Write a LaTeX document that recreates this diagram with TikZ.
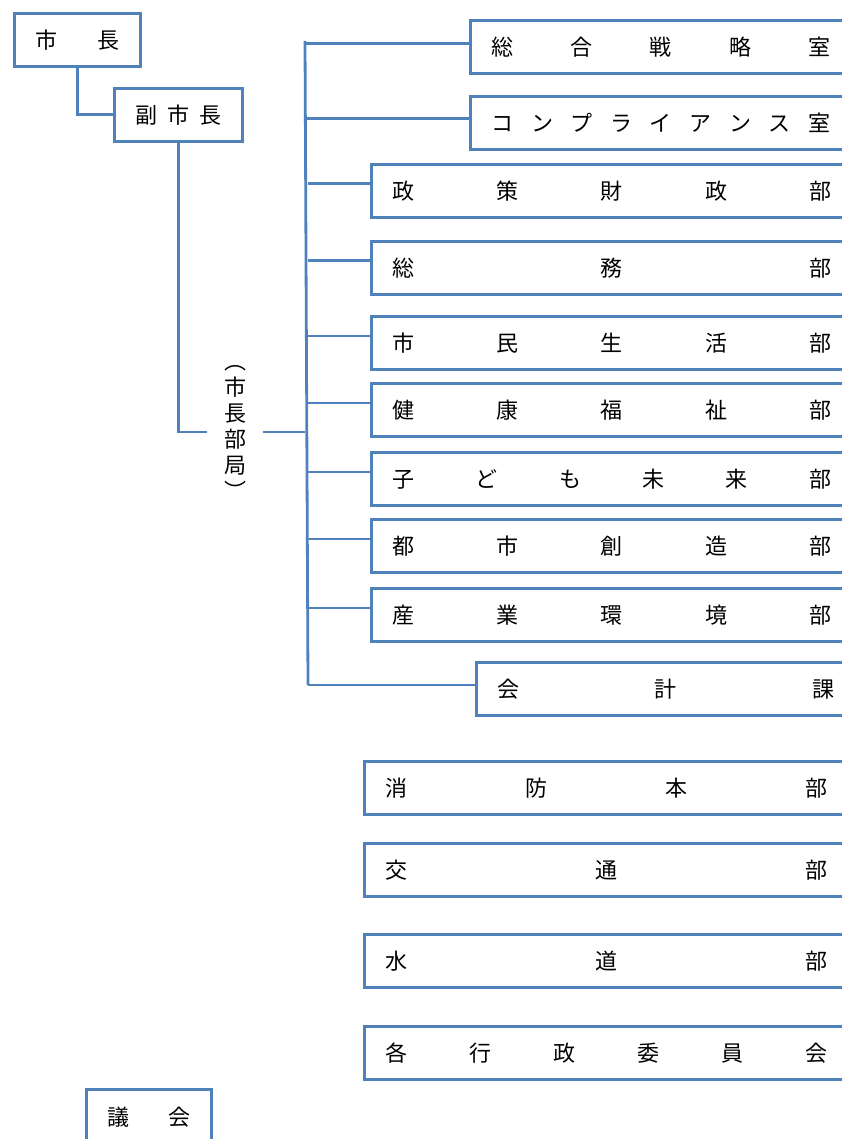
\documentclass[tikz,border=0pt]{standalone}
\usepackage{fontspec}
\setmainfont{Noto Sans CJK JP}
\definecolor{orgblue}{HTML}{4F81BD}
\tikzset{
  unit/.style={draw=orgblue, line width=2.8pt, anchor=north west, minimum height=53pt,
    inner xsep=21pt, inner ysep=0pt, align=left, font=\fontsize{22}{22}\selectfont},
  link/.style={draw=orgblue, line width=2.8pt},
}
\begin{document}
\begin{tikzpicture}[x=1pt, y=-1pt]
  \useasboundingbox (0,0) rectangle (841,1139);

  %% top
  \node[unit, text width=84pt] (shicho) at (13,12) {市\hfill 長};
  \node[unit, text width=86pt] (fuku) at (113,87) {副\hfill 市\hfill 長};
  \node[align=center, inner xsep=17pt, inner ysep=0pt, font=\fontsize{22}{26}\selectfont] (kyoku) at (235,432)
    {︵\\市\\長\\部\\局\\︶};

  %% trunk
  \coordinate (trunktop) at (305,41);
  \coordinate (trunkbot) at (308,685);

  %% offices
  \node[unit, text width=339pt] (senryaku) at (469,19) {総\hfill 合\hfill 戦\hfill 略\hfill 室};
  \node[unit, text width=339pt] (compl) at (469,95) {コ\hfill ン\hfill プ\hfill ラ\hfill イ\hfill ア\hfill ン\hfill ス\hfill 室};

  %% departments
  \node[unit, text width=439pt] (seisaku) at (370,163) {政\hfill 策\hfill 財\hfill 政\hfill 部};
  \node[unit, text width=439pt] (somu) at (370,240) {総\hfill 務\hfill 部};
  \node[unit, text width=439pt] (shimin) at (370,315) {市\hfill 民\hfill 生\hfill 活\hfill 部};
  \node[unit, text width=439pt] (kenko) at (370,382) {健\hfill 康\hfill 福\hfill 祉\hfill 部};
  \node[unit, text width=439pt] (kodomo) at (370,451) {子\hfill ど\hfill も\hfill 未\hfill 来\hfill 部};
  \node[unit, text width=439pt] (toshi) at (370,518) {都\hfill 市\hfill 創\hfill 造\hfill 部};
  \node[unit, text width=439pt] (sangyo) at (370,587) {産\hfill 業\hfill 環\hfill 境\hfill 部};
  \node[unit, text width=337pt] (kaikei) at (475,661) {会\hfill 計\hfill 課};

  %% others
  \node[unit, text width=442pt] (shobo) at (363,760) {消\hfill 防\hfill 本\hfill 部};
  \node[unit, text width=442pt] (kotsu) at (363,842) {交\hfill 通\hfill 部};
  \node[unit, text width=442pt] (suido) at (363,933) {水\hfill 道\hfill 部};
  \node[unit, text width=442pt] (iinkai) at (363,1025) {各\hfill 行\hfill 政\hfill 委\hfill 員\hfill 会};
  \node[unit, text width=83pt, minimum height=56pt] (gikai) at (85,1088) {議\hfill 会};

  %% lines
  \draw[link] (shicho.south) |- (fuku.west);
  \draw[link] (fuku.south) |- (kyoku.west);
  \draw[link] (kyoku.east) -- (kyoku.east -| trunktop);
  \draw[link] (trunktop) -- (trunkbot);
  \draw[link] ([yshift=3pt]senryaku.west) -- ([yshift=3pt]senryaku.west -| trunktop);
  \draw[link] ([yshift=4pt]compl.west) -- ([yshift=4pt]compl.west -| trunktop);
  \foreach \d in {seisaku,somu,shimin,kenko,kodomo,toshi,sangyo}
    \draw[link] ([yshift=7pt]\d.west) -- ([yshift=7pt]\d.west -| trunkbot);
  \draw[link] ([yshift=4pt]kaikei.west) -- ([yshift=4pt]kaikei.west -| trunkbot);

\end{tikzpicture}
\end{document}
